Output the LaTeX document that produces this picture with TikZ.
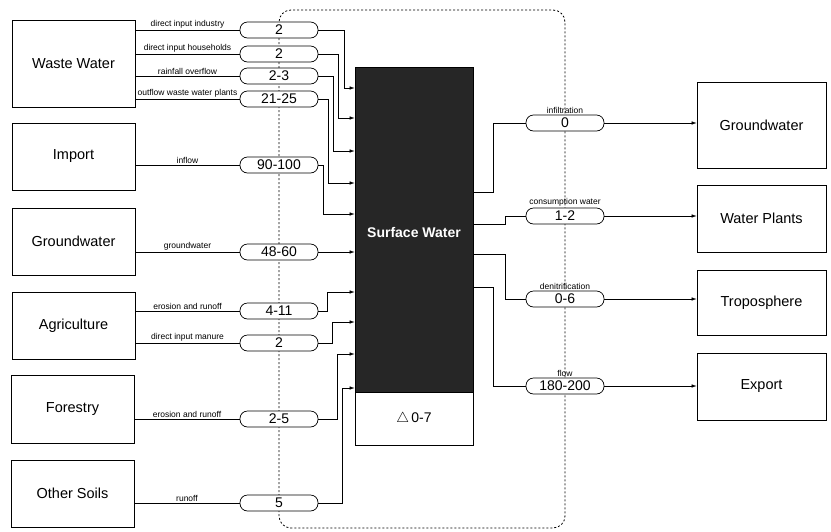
\documentclass[tikz,border=0pt]{standalone}
\usepackage{fontspec}
\setmainfont{Liberation Sans}
\usetikzlibrary{arrows.meta}
\begin{document}
\begin{tikzpicture}[x=1pt,y=-1pt,
  box/.style={draw, line width=0.7pt, inner sep=0pt, font=\fontsize{14.5}{16}\selectfont},
  lbox/.style={box, minimum width=123pt},
  rbox/.style={box, minimum width=129pt},
  pill/.style={draw, line width=0.7pt, fill=white, rounded corners=7.5pt, minimum width=78pt, minimum height=16pt, inner sep=0pt, font=\fontsize{14}{16}\selectfont},
  lab/.style={font=\fontsize{8.5}{9}\selectfont, inner sep=1.2pt, anchor=south},
  flow/.style={line width=0.6pt},
  arr/.style={line width=0.6pt, -{Latex[length=5pt,width=3.5pt]}},
  bound/.style={line width=0.8pt, dash pattern=on 2pt off 2pt, rounded corners=12pt},
]
\useasboundingbox (0,0) rectangle (831,531);

% system boundary
\draw[bound] (279,10) rectangle (565,528);

% left boxes
\node[lbox, minimum height=87pt] (ww)  at (73.5,63.5) {Waste Water};
\node[lbox, minimum height=67pt] (imp) at (73.5,156.5) {Import};
\node[lbox, minimum height=67pt] (gwl) at (73.5,241.5) {Groundwater};
\node[lbox, minimum height=67pt] (agr) at (73.5,325.5) {Agriculture};
\node[lbox, minimum height=68pt] (for) at (72.5,409) {Forestry};
\node[lbox, minimum height=67pt] (oso) at (72.5,493.5) {Other Soils};

% surface water
\node[draw, line width=0.7pt, fill={rgb,255:red,38;green,38;blue,38}, minimum width=118pt, minimum height=325pt, inner sep=0pt] (sw) at (414,229.5) {};
\node[text=white, font=\bfseries\fontsize{14}{16}\selectfont, inner sep=0pt] (swt) at (414,232) {Surface Water};
\node[draw, line width=0.7pt, fill=white, minimum width=118pt, minimum height=53pt, inner sep=0pt,
      font=\fontsize{14}{16}\selectfont] (dl) at (414,418.5) {$\triangle$\,0-7};

% right boxes
\node[rbox, minimum height=86pt] (gwr) at (761.5,125) {Groundwater};
\node[rbox, minimum height=67pt] (wp)  at (761.5,218.5) {Water Plants};
\node[rbox, minimum height=65pt] (tro) at (761.5,302.5) {Troposphere};
\node[rbox, minimum height=67pt] (exp) at (761.5,386.5) {Export};

% left pills
\node[pill] (p1)  at (279,30)  {2};
\node[pill] (p2)  at (279,54)  {2};
\node[pill] (p3)  at (279,76)  {2-3};
\node[pill] (p4)  at (279,99)  {21-25};
\node[pill] (p5)  at (279,165) {90-100};
\node[pill] (p6)  at (279,252) {48-60};
\node[pill] (p7)  at (279,311) {4-11};
\node[pill] (p8)  at (279,343) {2};
\node[pill] (p9)  at (279,419) {2-5};
\node[pill] (p10) at (279,503) {5};

% right pills
\node[pill] (r1) at (565,123) {0};
\node[pill] (r2) at (565,216) {1-2};
\node[pill] (r3) at (565,299) {0-6};
\node[pill] (r4) at (565,386) {180-200};

% source -> pill
\draw[flow] (ww.east |- p1) -- node[lab]{direct input industry} (p1.west);
\draw[flow] (ww.east |- p2) -- node[lab]{direct input households} (p2.west);
\draw[flow] (ww.east |- p3) -- node[lab]{rainfall overflow} (p3.west);
\draw[flow] (ww.east |- p4) -- node[lab]{outflow waste water plants} (p4.west);
\draw[flow] (imp.east |- p5) -- node[lab]{inflow} (p5.west);
\draw[flow] (gwl.east |- p6) -- node[lab]{groundwater} (p6.west);
\draw[flow] (agr.east |- p7) -- node[lab]{erosion and runoff} (p7.west);
\draw[flow] (agr.east |- p8) -- node[lab]{direct input manure} (p8.west);
\draw[flow] (for.east |- p9) -- node[lab]{erosion and runoff} (p9.west);
\draw[flow] (oso.east |- p10) -- node[lab]{runoff} (p10.west);

% pill -> surface water
\draw[arr] (p1.east) -- (344,30) |- (sw.west |- 0,88);
\draw[arr] (p2.east) -- (338,54) |- (sw.west |- 0,118);
\draw[arr] (p3.east) -- (333,76) |- (sw.west |- 0,151);
\draw[arr] (p4.east) -- (328,99) |- (sw.west |- 0,183);
\draw[arr] (p5.east) -- (323,165) |- (sw.west |- 0,214);
\draw[arr] (p6.east) -- (sw.west |- p6);
\draw[arr] (p7.east) -- (327,311) |- (sw.west |- 0,292);
\draw[arr] (p8.east) -- (332,343) |- (sw.west |- 0,322);
\draw[arr] (p9.east) -- (337,419) |- (sw.west |- 0,354);
\draw[arr] (p10.east) -- (342,503) |- (sw.west |- 0,388);

% surface water -> right pills
\draw[flow] (sw.east |- 0,192) -- (493,192) |- (r1.west);
\draw[flow] (sw.east |- 0,224) -- (505,224) |- (r2.west);
\draw[flow] (sw.east |- 0,254) -- (505,254) |- (r3.west);
\draw[flow] (sw.east |- 0,287) -- (493,287) |- (r4.west);

\node[lab] at (r1.north) {infiltration};
\node[lab] at (r2.north) {consumption water};
\node[lab] at (r3.north) {denitrification};
\node[lab] at (r4.north) {flow};

% right pills -> sinks
\draw[arr] (r1.east) -- (r1.east -| gwr.west);
\draw[arr] (r2.east) -- (r2.east -| wp.west);
\draw[arr] (r3.east) -- (r3.east -| tro.west);
\draw[arr] (r4.east) -- (r4.east -| exp.west);
\end{tikzpicture}
\end{document}
